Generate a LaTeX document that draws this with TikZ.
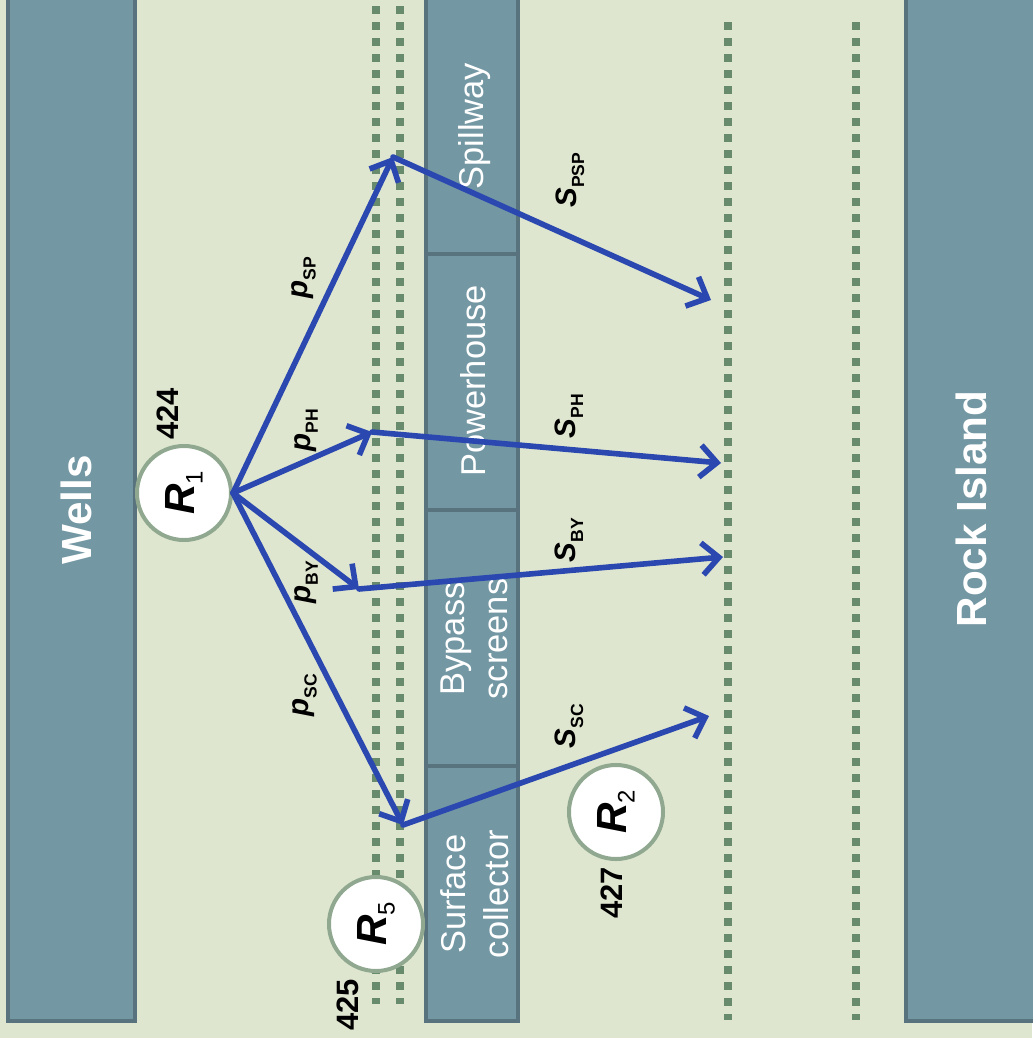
\documentclass[tikz,border=0pt]{standalone}
\usepackage{fontspec}
\setmainfont{Liberation Sans}
\usetikzlibrary{arrows.meta}

% subscripted labels
\newcommand{\rate}[2]{\textbf{\textit{#1}}\raisebox{-5.5pt}{\fontsize{12.5}{12.5}\selectfont\bfseries #2}}
\newcommand{\rel}[1]{\textbf{\textit{R}}\raisebox{-6pt}{\fontsize{17}{17}\selectfont #1}}

\begin{document}
\begin{tikzpicture}[x=0.025cm, y=-0.025cm]
% Define colors
\definecolor{bgcol}{HTML}{DFE6CF}
\definecolor{colfill}{HTML}{7397A3}
\definecolor{colline}{HTML}{58737D}
\definecolor{dotcol}{HTML}{688A6D}
\definecolor{ringcol}{HTML}{90A890}
\definecolor{flowblue}{HTML}{2B48B0}

\tikzset{
  damcol/.style={fill=colfill, draw=colline, line width=0.1cm},
  lane/.style={dotcol, line width=0.2cm, dash pattern=on 0.2cm off 0.2cm},
  flow/.style={flowblue, line width=0.14cm, line cap=round,
    -{Straight Barb[length=0.42cm, width=0.8cm]}},
  release/.style={circle, draw=ringcol, line width=0.1cm, fill=white,
    minimum size=2.35cm, inner sep=0pt,
    font=\fontsize{30}{36}\selectfont},
  bank/.style={rotate=90, white, font=\fontsize{30}{36}\selectfont\bfseries},
  route/.style={rotate=90, white, align=center, font=\fontsize{24.5}{30.5}\selectfont},
  tag/.style={rotate=90, font=\fontsize{22}{26}\selectfont\bfseries},
  prob/.style={rotate=90, font=\fontsize{21}{25}\selectfont},
}

% Set background
\useasboundingbox (0,0) rectangle (1032,1038);
\fill[bgcol] (0,0) rectangle (1032,1038);

% Columns
\draw[damcol] (8,-20) rectangle (135,1021);
\draw[damcol] (906,-20) rectangle (1050,1021);
\draw[damcol] (426,-20) rectangle (518,1021);
\draw[colline, line width=0.1cm] (426,254) -- (518,254);
\draw[colline, line width=0.1cm] (426,510) -- (518,510);
\draw[colline, line width=0.1cm] (426,766) -- (518,766);

% Dotted lines
\draw[lane] (376,6) -- (376,1004);
\draw[lane] (400,6) -- (400,1004);
\draw[lane] (728,22) -- (728,1020);
\draw[lane] (856,22) -- (856,1020);

% Column labels
\node[bank] (wells) at (76,510) {Wells};
\node[bank] (rocky) at (971,509) {Rock Island};
\node[route] (spill) at (475,126) {Spillway};
\node[route] (power) at (473,381) {Powerhouse};
\node[route] (bypass) at (474,639) {Bypass\\screens};
\node[route] (surf) at (475,894) {Surface\\collector};

% Release sites
\node[release] (r1) at (184,493) {\rotatebox{90}{\rel{1}}};
\node[release] (r5) at (376,924) {\rotatebox{90}{\rel{5}}};
\node[release] (r2) at (616,812) {\rotatebox{90}{\rel{2}}};
\node[tag] (n424) at (168,414) {424};
\node[tag] (n425) at (348,1005) {425};
\node[tag] (n427) at (612,893) {427};

% Route points
\coordinate (sp) at (393,157);
\coordinate (ph) at (372,432);
\coordinate (by) at (359,589);
\coordinate (sc) at (403,825);
\coordinate (spx) at (711,300);
\coordinate (phx) at (721,463);
\coordinate (byx) at (723,557);
\coordinate (scx) at (709,716);

% Arrows
\draw[flow] (r1.east) -- (sp);
\draw[flow] (r1.east) -- (ph);
\draw[flow] (r1.east) -- (by);
\draw[flow] (r1.east) -- (sc);
\draw[flow] (sp) -- (spx);
\draw[flow] (ph) -- (phx);
\draw[flow] (by) -- (byx);
\draw[flow] (sc) -- (scx);

% Arrow labels
\node[prob] (psp) at (304,278) {\rate{p}{SP}};
\node[prob] (pph) at (306,430) {\rate{p}{PH}};
\node[prob] (pby) at (306,582) {\rate{p}{BY}};
\node[prob] (psc) at (305,695) {\rate{p}{SC}};
\node[prob] (ssp) at (570,180) {\rate{S}{PSP}};
\node[prob] (sph) at (569,416) {\rate{S}{PH}};
\node[prob] (sby) at (569,540) {\rate{S}{BY}};
\node[prob] (ssc) at (569,726) {\rate{S}{SC}};

\end{tikzpicture}
\end{document}
